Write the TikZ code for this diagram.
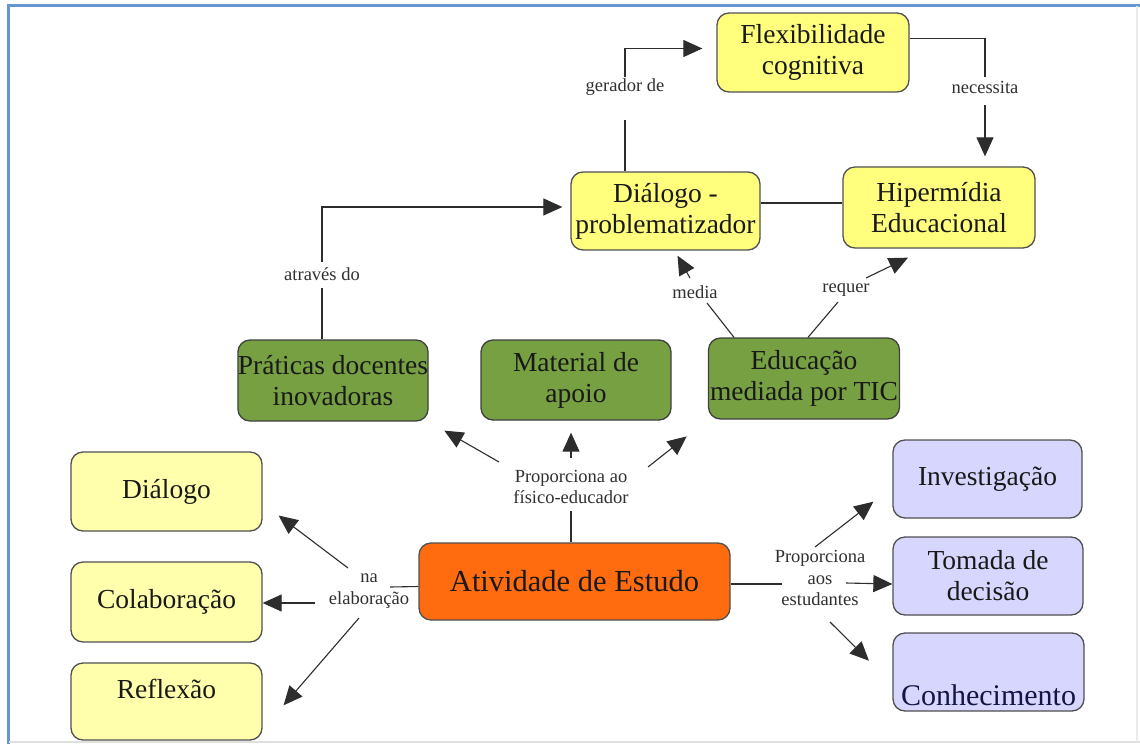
\documentclass[tikz,border=0pt]{standalone}
\usepackage{fontspec}
\setmainfont{LiberationSerif}[Extension=.ttf, UprightFont=*-Regular, BoldFont=*-Bold, ItalicFont=*-Italic, BoldItalicFont=*-BoldItalic]
\usetikzlibrary{arrows.meta,calc}
\definecolor{ylw}{RGB}{255,255,125}
\definecolor{pale}{RGB}{255,255,172}
\definecolor{grn}{RGB}{118,160,66}
\definecolor{org}{RGB}{255,108,16}
\definecolor{lav}{RGB}{214,214,255}
\definecolor{bord}{RGB}{80,80,80}
\definecolor{linec}{RGB}{45,45,45}
\definecolor{txt}{RGB}{25,25,25}
\definecolor{framec}{RGB}{100,150,210}
\newcommand\boxfont{\fontsize{27.5}{31}\selectfont}
\newcommand\bigboxfont{\fontsize{30.5}{34}\selectfont}
\newcommand\lblfont{\fontsize{18.5}{21.5}\selectfont}
\begin{document}
\begin{tikzpicture}[x=1pt,y=-1pt,
  box/.style={draw=bord, line width=1.3pt, rounded corners=12pt, align=center, inner sep=0pt, text=txt, font=\boxfont, minimum width=190pt, minimum height=79pt},
  ybox/.style={box, fill=ylw},
  pbox/.style={box, fill=pale},
  gbox/.style={box, fill=grn, draw=black!75},
  obox/.style={box, fill=org, font=\bigboxfont, minimum width=311pt, minimum height=77pt},
  lbox/.style={box, fill=lav},
  lbl/.style={font=\lblfont, align=center, text=txt!90, inner sep=0pt},
  conn/.style={draw=linec, line width=1.1pt},
  arr/.style={conn, -{Triangle[length=19pt,width=17pt]}}
]
\useasboundingbox (0,0) rectangle (1140,744);
\fill[white] (0,0) rectangle (1140,744);
\draw[framec, line width=3pt] (8,744) -- (8,5) -- (1140,5);
\draw[black!12, line width=1.5pt] (9,742) -- (1140,742);
\draw[black!8, line width=1.2pt] (1137,6) -- (1137,742);

% nodes
\node[ybox, minimum width=192pt] (flex) at (813,52.5) {Flexibilidade\\cognitiva};
\node[ybox, minimum width=189pt, minimum height=78pt] (dp) at (665.5,211) {Diálogo -\\problematizador};
\node[ybox, minimum width=192pt, minimum height=81pt] (hip) at (939,207.5) {Hipermídia\\Educacional};
\node[gbox, minimum height=81pt] (prat) at (333,380.5) {Práticas docentes\\inovadoras};
\node[gbox, minimum height=80pt] (mat) at (576,380) {Material de\\apoio};
\node[gbox, minimum width=191pt, minimum height=81pt] (edu) at (804,378.5) {Educação\\mediada por TIC};
\node[pbox, minimum width=191pt] (dia) at (166.5,491.5) {Diálogo};
\node[pbox, minimum width=191pt, minimum height=80pt] (col) at (166.5,602) {Colaboração};
\node[pbox, minimum width=191pt, minimum height=77pt] (ref) at (166.5,701.5) {Reflexão\\[-6pt]\mbox{}};
\node[obox] (act) at (574.5,581.5) {Atividade de Estudo};
\node[lbox, minimum width=189pt, minimum height=78pt] (inv) at (987.5,479) {Investigação};
\node[lbox, minimum height=78pt] (tom) at (988,576) {Tomada de\\decisão};
\node[lbox, minimum width=191pt, minimum height=78pt] (con) at (988.5,672) {};
\node[font=\fontsize{30}{34}\selectfont, anchor=base, text=txt!80!blue, inner sep=0pt] (contxt) at ($(con.south)+(0,-6)$) {Conhecimento};

% labels
\node[lbl] (gl) at (625,87) {gerador de};
\node[lbl] (nl) at (985,87) {necessita};
\node[lbl] (al) at (322,274) {através do};
\node[lbl] (ml) at (695,292) {media};
\node[lbl] (rl) at (846,290) {requer};
\node[lbl] (pl) at (571,487) {Proporciona ao\\físico-educador};
\node[lbl] (el) at (369,591) {na\\elaboração};
\node[lbl] (sl) at (820,578) {Proporciona\\aos\\estudantes};

% connectors
\draw[conn] (dp.north -| gl) -- ($(gl.center)+(0,33)$);
\draw[arr, shorten >=14pt] ($(gl.center)+(0,-10)$) |- ($(flex.west)+(0,-4)$);

\draw[conn] ($(flex.east)+(0,-14)$) -| ($(nl.center)+(0,-10)$);
\draw[arr, shorten >=10pt] ($(nl.center)+(0,18)$) -- (nl.center |- hip.north);

\draw[conn] (prat.north -| al) -- ($(al.center)+(0,14)$);
\draw[arr, shorten >=8pt] ($(al.center)+(0,-12)$) |- ($(dp.west)+(0,-4)$);

\draw[conn] ($(dp.east)+(0,-8)$) -- ($(hip.west)+(0,-4.5)$);

\draw[conn] ($(edu.north)+(-70,0)$) -- ($(ml.center)+(12,11)$);
\draw[arr] ($(ml.center)+(-5,-14)$) -- ($(dp.south)+(12,5)$);

\draw[conn] ($(edu.north)+(4,0)$) -- ($(rl.center)+(-8,12)$);
\draw[arr] ($(rl.center)+(20,-12)$) -- ($(hip.south)+(-31,9)$);

\draw[conn] (act.north -| pl) -- ($(pl.center)+(0,24)$);
\draw[arr, shorten >=18pt] ($(pl.center)+(-72,-25)$) -- (prat.south east);
\draw[arr, shorten >=12pt] ($(pl.center)+(0,-29)$) -- (pl.center |- mat.south);
\draw[arr, shorten >=27pt] ($(pl.center)+(77,-20)$) -- (edu.south west);

\draw[conn] ($(act.west)+(0,5)$) -- ($(el.center)+(21,-4)$);
\draw[arr, shorten >=20pt] ($(el.center)+(-21,-23)$) -- ($(dia.east)+(0,12)$);
\draw[arr] ($(el.center)+(-54,12)$) -- ($(col.east)+(0,1)$);
\draw[arr, shorten >=32pt] ($(el.center)+(-10,27)$) -- ($(ref.east)+(0,28)$);

\draw[conn] ($(act.east)+(0,2.5)$) -- ($(sl.center)+(-38,6)$);
\draw[arr, shorten >=24pt] ($(sl.center)+(-5,-31)$) -- ($(inv.west)+(0,8)$);
\draw[arr] ($(sl.center)+(26,5)$) -- ($(tom.west)+(0,8)$);
\draw[arr, shorten >=33pt] ($(sl.center)+(10,44)$) -- ($(con.west)+(0,12)$);
\end{tikzpicture}
\end{document}
